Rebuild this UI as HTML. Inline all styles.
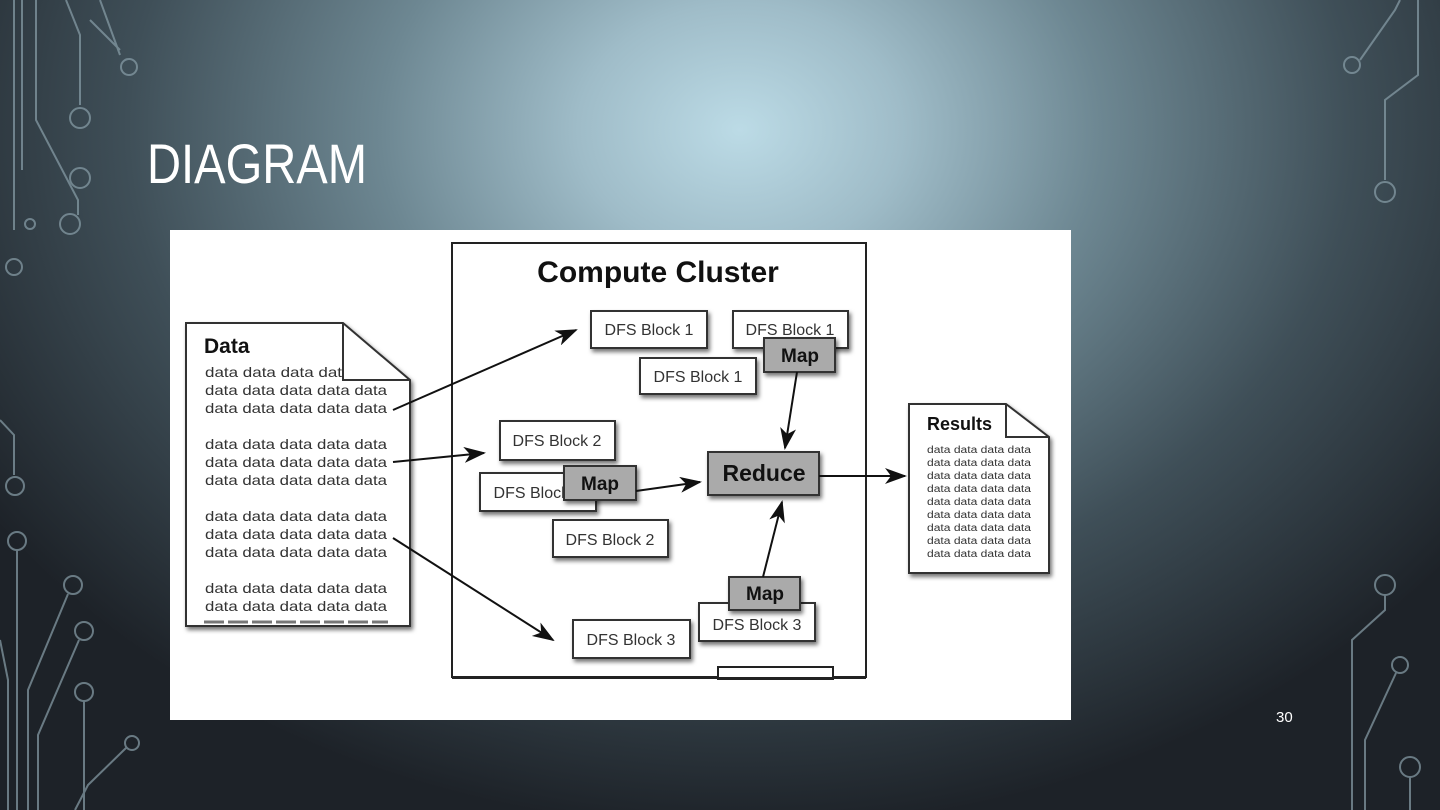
<!DOCTYPE html>
<html><head><meta charset="utf-8"><style>
html,body{margin:0;padding:0;width:1440px;height:810px;overflow:hidden}
body{background:radial-gradient(ellipse 900px 700px at 740px 130px,#bcdbe6 0%,#9fbcc8 18%,#6d8792 40%,#3f4f58 68%,#1d2228 100%);}
svg{position:absolute;left:0;top:0}
</style></head><body>
<svg width="1440" height="810" viewBox="0 0 1440 810" font-family="'Liberation Sans',sans-serif">
<defs>
<filter id="sh" x="-20%" y="-20%" width="150%" height="160%"><feDropShadow dx="2" dy="3" stdDeviation="2" flood-color="#000" flood-opacity="0.55"/></filter>
<marker id="ah" markerWidth="10" markerHeight="8" refX="9" refY="4" orient="auto" markerUnits="userSpaceOnUse" viewBox="0 0 10 8"><path d="M0,0 L10,4 L0,8 L3,4 Z" fill="#111"/></marker>
<marker id="ah2" markerWidth="22" markerHeight="16" refX="20" refY="8" orient="auto" markerUnits="userSpaceOnUse" viewBox="0 0 22 16"><path d="M0,0 L22,8 L0,16 L6,8 Z" fill="#111"/></marker>
</defs>
<!-- circuit decorations -->
<g stroke="#8aa0aa" stroke-width="2" fill="none" opacity="0.7">
<path d="M14,0 V230 M22,0 V170 M36,0 V120 L78,200 V215 M66,0 L80,35 V105"/>
<path d="M100,0 L120,55 M90,20 L120,50"/>
<circle cx="129" cy="67" r="8"/><circle cx="80" cy="118" r="10"/><circle cx="80" cy="178" r="10"/><circle cx="70" cy="224" r="10"/><circle cx="30" cy="224" r="5"/><circle cx="14" cy="267" r="8"/>
<path d="M0,420 L14,435 V475"/><circle cx="15" cy="486" r="9"/>
<circle cx="17" cy="541" r="9"/><path d="M17,550 V810"/>
<circle cx="73" cy="585" r="9"/><path d="M68,594 L28,690 V810"/>
<circle cx="84" cy="631" r="9"/><path d="M79,640 L38,735 V810"/>
<circle cx="84" cy="692" r="9"/><path d="M84,701 V810"/>
<circle cx="132" cy="743" r="7"/><path d="M126,748 L88,785 L75,810"/>
<path d="M0,640 L8,680 V810"/>
<circle cx="1352" cy="65" r="8"/><path d="M1360,60 L1395,10 L1400,0 M1418,0 V75 L1385,100 V180"/>
<circle cx="1385" cy="192" r="10"/>
<circle cx="1385" cy="585" r="10"/><path d="M1385,595 V610 L1352,640 V810"/>
<circle cx="1400" cy="665" r="8"/><path d="M1396,673 L1365,740 V810"/>
<circle cx="1410" cy="767" r="10"/><path d="M1410,777 V810"/>
</g>
<text x="147" y="183" font-size="56" fill="#fff" textLength="220" lengthAdjust="spacingAndGlyphs">DIAGRAM</text>
<text x="1276" y="722" font-size="15" fill="#fff">30</text>
<!-- image -->
<rect x="170" y="230" width="901" height="490" fill="#fff"/>
<!-- cluster -->
<rect x="452" y="243" width="414" height="434" fill="#fff" stroke="#222" stroke-width="2"/>
<text x="658" y="282" font-size="30" font-weight="bold" text-anchor="middle" fill="#111">Compute Cluster</text>
<!-- data doc -->
<path d="M186,323 H343 L410,380 V626 H186 Z" fill="#fff" stroke="#333" stroke-width="2" filter="url(#sh)"/>
<path d="M343,323 V380 H410" fill="none" stroke="#333" stroke-width="2"/>
<text x="204" y="353" font-size="21" font-weight="bold" fill="#111">Data</text>
<g font-size="14" fill="#333" textLength="182">
<text x="205" y="377" textLength="137" lengthAdjust="spacingAndGlyphs">data data data dat</text>
<text x="205" y="395" textLength="182" lengthAdjust="spacingAndGlyphs">data data data data data</text>
<text x="205" y="413" textLength="182" lengthAdjust="spacingAndGlyphs">data data data data data</text>
<text x="205" y="449" textLength="182" lengthAdjust="spacingAndGlyphs">data data data data data</text>
<text x="205" y="467" textLength="182" lengthAdjust="spacingAndGlyphs">data data data data data</text>
<text x="205" y="485" textLength="182" lengthAdjust="spacingAndGlyphs">data data data data data</text>
<text x="205" y="521" textLength="182" lengthAdjust="spacingAndGlyphs">data data data data data</text>
<text x="205" y="539" textLength="182" lengthAdjust="spacingAndGlyphs">data data data data data</text>
<text x="205" y="557" textLength="182" lengthAdjust="spacingAndGlyphs">data data data data data</text>
<text x="205" y="593" textLength="182" lengthAdjust="spacingAndGlyphs">data data data data data</text>
<text x="205" y="611" textLength="182" lengthAdjust="spacingAndGlyphs">data data data data data</text>
</g>
<rect x="200" y="621" width="200" height="4" fill="#fff"/>
<path d="M204,622 H388" stroke="#777" stroke-width="3" stroke-dasharray="20,4"/>
<!-- DFS blocks -->
<g font-size="16" fill="#333" text-anchor="middle">
<g><rect x="591" y="311" width="116" height="37" fill="#fff" stroke="#333" stroke-width="2" filter="url(#sh)"/><text x="649" y="335">DFS Block 1</text></g>
<g><rect x="733" y="311" width="115" height="37" fill="#fff" stroke="#333" stroke-width="2" filter="url(#sh)"/><text x="790" y="335">DFS Block 1</text></g>
<g><rect x="640" y="358" width="116" height="36" fill="#fff" stroke="#333" stroke-width="2" filter="url(#sh)"/><text x="698" y="382">DFS Block 1</text></g>
<g><rect x="500" y="421" width="115" height="39" fill="#fff" stroke="#333" stroke-width="2" filter="url(#sh)"/><text x="557" y="446">DFS Block 2</text></g>
<g><rect x="480" y="473" width="116" height="38" fill="#fff" stroke="#333" stroke-width="2" filter="url(#sh)"/><text x="538" y="498">DFS Block 2</text></g>
<g><rect x="553" y="520" width="115" height="37" fill="#fff" stroke="#333" stroke-width="2" filter="url(#sh)"/><text x="610" y="545">DFS Block 2</text></g>
<g><rect x="699" y="603" width="116" height="38" fill="#fff" stroke="#333" stroke-width="2" filter="url(#sh)"/><text x="757" y="630">DFS Block 3</text></g>
<g><rect x="573" y="620" width="117" height="38" fill="#fff" stroke="#333" stroke-width="2" filter="url(#sh)"/><text x="631" y="645">DFS Block 3</text></g>
</g>
<rect x="718" y="667" width="115" height="12" fill="#fff" stroke="#222" stroke-width="2"/>
<rect x="452" y="677" width="414" height="2" fill="#222"/>
<!-- map/reduce -->
<g font-weight="bold" fill="#111" text-anchor="middle">
<rect x="764" y="338" width="71" height="34" fill="#aaa" stroke="#333" stroke-width="2" filter="url(#sh)"/><text x="800" y="362" font-size="19">Map</text>
<rect x="564" y="466" width="72" height="34" fill="#aaa" stroke="#333" stroke-width="2" filter="url(#sh)"/><text x="600" y="490" font-size="19">Map</text>
<rect x="729" y="577" width="71" height="33" fill="#aaa" stroke="#333" stroke-width="2" filter="url(#sh)"/><text x="765" y="600" font-size="19">Map</text>
<rect x="708" y="452" width="111" height="43" fill="#aaa" stroke="#333" stroke-width="2" filter="url(#sh)"/><text x="764" y="481" font-size="23">Reduce</text>
</g>
<!-- results doc -->
<path d="M909,404 H1006 L1049,437 V573 H909 Z" fill="#fff" stroke="#333" stroke-width="2" filter="url(#sh)"/>
<path d="M1006,404 V437 H1049" fill="none" stroke="#333" stroke-width="2"/>
<text x="927" y="430" font-size="18" font-weight="bold" fill="#111">Results</text>
<g font-size="10" fill="#333">
<text x="927" y="453" textLength="104" lengthAdjust="spacingAndGlyphs">data data data data</text>
<text x="927" y="466" textLength="104" lengthAdjust="spacingAndGlyphs">data data data data</text>
<text x="927" y="479" textLength="104" lengthAdjust="spacingAndGlyphs">data data data data</text>
<text x="927" y="492" textLength="104" lengthAdjust="spacingAndGlyphs">data data data data</text>
<text x="927" y="505" textLength="104" lengthAdjust="spacingAndGlyphs">data data data data</text>
<text x="927" y="518" textLength="104" lengthAdjust="spacingAndGlyphs">data data data data</text>
<text x="927" y="531" textLength="104" lengthAdjust="spacingAndGlyphs">data data data data</text>
<text x="927" y="544" textLength="104" lengthAdjust="spacingAndGlyphs">data data data data</text>
<text x="927" y="557" textLength="104" lengthAdjust="spacingAndGlyphs">data data data data</text>
</g>
<!-- arrows -->
<g stroke="#111" stroke-width="2" fill="none">
<path d="M393,410 L576,330" marker-end="url(#ah2)"/>
<path d="M393,462 L484,453" marker-end="url(#ah2)"/>
<path d="M393,538 L553,640" marker-end="url(#ah2)"/>
<path d="M797,372 L785,448" marker-end="url(#ah2)"/>
<path d="M636,491 L700,482" marker-end="url(#ah2)"/>
<path d="M763,577 L782,502" marker-end="url(#ah2)"/>
<path d="M819,476 L905,476" marker-end="url(#ah2)"/>
</g>
</svg>
</body></html>
